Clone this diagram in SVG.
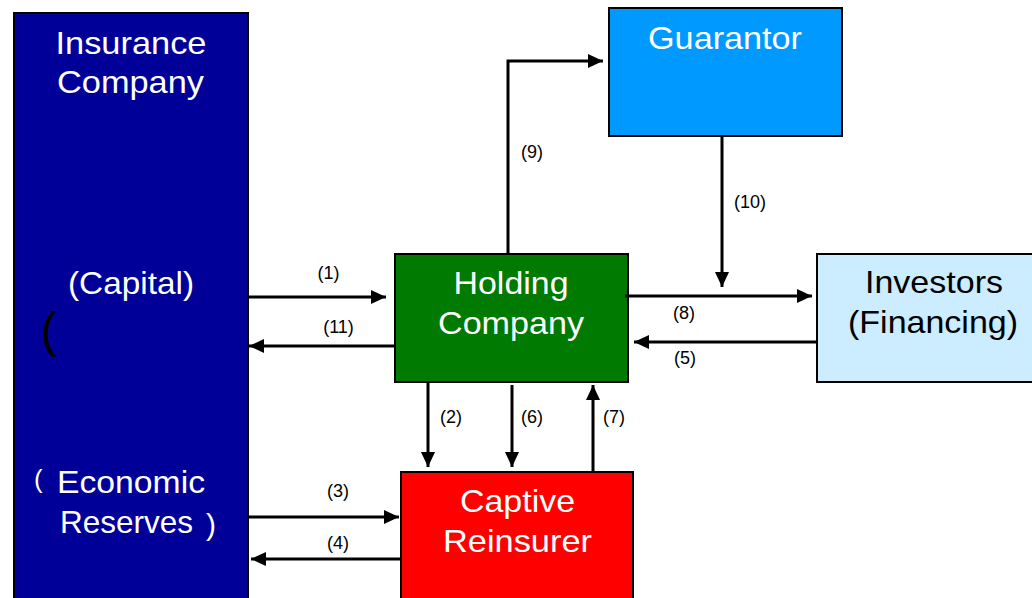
<svg xmlns="http://www.w3.org/2000/svg" width="1032" height="598" viewBox="0 0 1032 598">
<style>
.box{stroke:#000;stroke-width:2}
.big{font-family:"Liberation Sans",Arial,sans-serif;font-size:30.5px;text-anchor:middle}
.w{fill:#fff}
.k{fill:#000}
.lbl{font-family:"Liberation Sans",Arial,sans-serif;font-size:18px;text-anchor:middle;fill:#000}
.c{fill:none;stroke:#000;stroke-width:3}
</style>
<defs>
<marker id="ah" markerUnits="userSpaceOnUse" markerWidth="16" markerHeight="14" refX="15" refY="7" orient="auto">
<path d="M0,0 L15,7 L0,14 z" fill="#000"/>
</marker>
</defs>
<rect width="1032" height="598" fill="#fff"/>
<g id="insurance">
<rect class="box" x="14" y="13" width="234" height="600" fill="#000099"/>
<text class="big w" x="131" y="54" textLength="151" lengthAdjust="spacingAndGlyphs">Insurance</text>
<text class="big w" x="130.5" y="93" textLength="147" lengthAdjust="spacingAndGlyphs">Company</text>
<text class="big w" x="131" y="294" textLength="126" lengthAdjust="spacingAndGlyphs">(Capital)</text>
<text x="40" y="347" font-family="Liberation Sans,Arial,sans-serif" font-size="50" fill="#000">(</text>
<text x="34" y="488" font-family="Liberation Sans,Arial,sans-serif" font-size="26" fill="#fff">(</text>
<text class="big w" x="131" y="493" textLength="148" lengthAdjust="spacingAndGlyphs">Economic</text>
<text class="big w" x="126.5" y="533" textLength="133" lengthAdjust="spacingAndGlyphs">Reserves</text>
<text x="206" y="535" font-family="Liberation Sans,Arial,sans-serif" font-size="30" fill="#fff">)</text>
</g>
<g id="holding">
<rect class="box" x="395" y="254" width="233" height="128" fill="#007A00"/>
<text class="big w" x="511" y="294" textLength="115" lengthAdjust="spacingAndGlyphs">Holding</text>
<text class="big w" x="511" y="334" textLength="146" lengthAdjust="spacingAndGlyphs">Company</text>
</g>
<g id="guarantor">
<rect class="box" x="609" y="8" width="233" height="128" fill="#0099FF"/>
<text class="big w" x="725" y="49" textLength="154" lengthAdjust="spacingAndGlyphs">Guarantor</text>
</g>
<g id="investors">
<rect class="box" x="817" y="254" width="230" height="128" fill="#CCECFF"/>
<text class="big k" x="934" y="293" textLength="138" lengthAdjust="spacingAndGlyphs">Investors</text>
<text class="big k" x="933" y="333" textLength="170" lengthAdjust="spacingAndGlyphs">(Financing)</text>
</g>
<g id="captive">
<rect class="box" x="401" y="472" width="232" height="140" fill="#FF0000"/>
<text class="big w" x="517.5" y="512" textLength="115" lengthAdjust="spacingAndGlyphs">Captive</text>
<text class="big w" x="517.5" y="552" textLength="149" lengthAdjust="spacingAndGlyphs">Reinsurer</text>
</g>
<g id="connectors">
<line class="c" x1="249" y1="297" x2="386" y2="297" marker-end="url(#ah)"/>
<line class="c" x1="395" y1="346" x2="249" y2="346" marker-end="url(#ah)"/>
<polyline class="c" points="508,254 508,61 603,61" marker-end="url(#ah)"/>
<line class="c" x1="722" y1="137" x2="722" y2="287" marker-end="url(#ah)"/>
<line class="c" x1="625" y1="296" x2="812" y2="296" marker-end="url(#ah)"/>
<line class="c" x1="817" y1="342" x2="634" y2="342" marker-end="url(#ah)"/>
<line class="c" x1="428" y1="382" x2="428" y2="467" marker-end="url(#ah)"/>
<line class="c" x1="512" y1="385" x2="512" y2="467" marker-end="url(#ah)"/>
<line class="c" x1="593" y1="472" x2="593" y2="385" marker-end="url(#ah)"/>
<line class="c" x1="249" y1="517" x2="399" y2="517" marker-end="url(#ah)"/>
<line class="c" x1="401" y1="559" x2="251" y2="559" marker-end="url(#ah)"/>
<text class="lbl" x="328.5" y="279">(1)</text>
<text class="lbl" x="338.5" y="333">(11)</text>
<text class="lbl" x="532" y="158">(9)</text>
<text class="lbl" x="750" y="208">(10)</text>
<text class="lbl" x="684" y="319">(8)</text>
<text class="lbl" x="685" y="364">(5)</text>
<text class="lbl" x="451" y="423">(2)</text>
<text class="lbl" x="532" y="423">(6)</text>
<text class="lbl" x="614" y="423">(7)</text>
<text class="lbl" x="338" y="497">(3)</text>
<text class="lbl" x="338" y="549">(4)</text>
</g>
</svg>
